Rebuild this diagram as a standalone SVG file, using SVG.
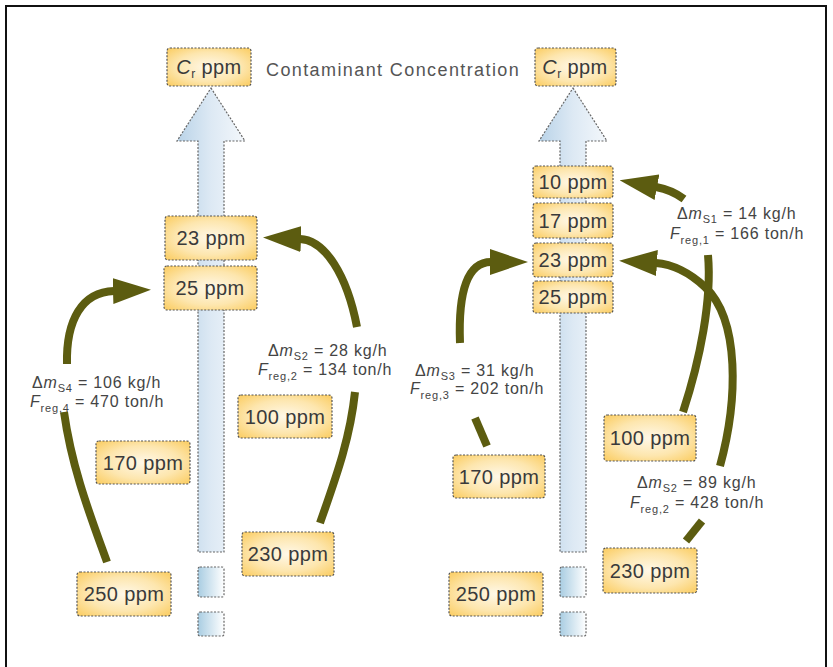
<svg xmlns="http://www.w3.org/2000/svg" width="833" height="667" viewBox="0 0 833 667">
<style>
.box{fill:url(#boxg);stroke:#555;stroke-width:1.2;stroke-dasharray:2 1.5}
.bt{font-family:"Liberation Sans",Arial,sans-serif;font-size:20px;fill:#3a3a3a;text-anchor:middle;letter-spacing:0.4px}
.lbl{font-family:"Liberation Sans",Arial,sans-serif;font-size:16px;fill:#444;letter-spacing:0.8px}
.title{font-family:"Liberation Sans",Arial,sans-serif;font-size:18px;fill:#555;letter-spacing:1.4px}
.shaft{fill:url(#blueg);stroke:#666;stroke-width:1.2;stroke-dasharray:2 1.5}
.sq{fill:url(#sqg);stroke:#666;stroke-width:1.2;stroke-dasharray:2 1.5}
.flow{fill:none;stroke:#5c5c10;stroke-width:8}
.flowh{fill:none;stroke:#5c5c10;stroke-width:8;marker-end:url(#ah)}
</style>
<defs>
<radialGradient id="boxg" cx="50%" cy="50%" r="65%">
<stop offset="0" stop-color="#fff8e8"/>
<stop offset="0.6" stop-color="#fde6ae"/>
<stop offset="1" stop-color="#fbd06c"/>
</radialGradient>
<linearGradient id="blueg" x1="0" y1="0" x2="1" y2="0">
<stop offset="0" stop-color="#b9d3e8"/>
<stop offset="0.5" stop-color="#dde9f4"/>
<stop offset="1" stop-color="#f3f7fb"/>
</linearGradient>
<linearGradient id="sqg" x1="0" y1="0" x2="1" y2="0">
<stop offset="0" stop-color="#a9cde2"/>
<stop offset="1" stop-color="#ffffff"/>
</linearGradient>
<marker id="ah" viewBox="0 0 38 26" markerWidth="38" markerHeight="26" refX="1" refY="13" orient="auto" markerUnits="userSpaceOnUse">
<path d="M0,0 L38,13 L0,26 Z" fill="#5c5c10"/>
</marker>
</defs>
<rect x="0" y="0" width="833" height="667" fill="#fff"/>
<rect x="6" y="6" width="820" height="680" fill="none" stroke="#111" stroke-width="2"/>

<text class="title" x="266" y="76">Contaminant Concentration</text>

<g id="left-column">
<polygon class="shaft" points="211,88 245,141 224,141 224,552 198,552 198,141 177,141"/>
<rect class="sq" x="198" y="567" width="26" height="30" rx="2"/>
<rect class="sq" x="198" y="612" width="26" height="24" rx="2"/>
</g>
<g id="right-column">
<polygon class="shaft" points="573,88 607,141 586,141 586,552 560,552 560,141 539,141"/>
<rect class="sq" x="560" y="567" width="26" height="30" rx="2"/>
<rect class="sq" x="560" y="612" width="26" height="24" rx="2"/>
</g>

<g id="connectors">
<path class="flow" d="M107,562 C92,520 72,470 64,412"/>
<path class="flowh" d="M67,364 C66,320 82,292 114,291"/>
<path class="flow" d="M320,523 C335,480 350,440 355,392"/>
<path class="flowh" d="M357,327 C347,275 325,240 300,239"/>
<path class="flow" d="M487,446 L475,418"/>
<path class="flowh" d="M460,343 C458,290 468,262 491,262"/>
<path class="flow" d="M683,412 C700,360 712,300 708,255"/>
<path class="flowh" d="M684,199 Q672,190 656,187"/>
<path class="flow" d="M686,541 L702,521"/>
<path class="flowh" d="M720,466 C738,400 740,320 705,287 C690,273 672,264 656,263"/>
</g>

<g id="n-cr-left"><rect class="box" x="167" y="48" width="84" height="38" rx="3"/><text class="bt" x="209" y="74"><tspan font-style="italic">C</tspan><tspan font-size="12" dy="4">r</tspan><tspan dy="-4"> ppm</tspan></text></g>
<g id="n-l23"><rect class="box" x="165" y="216" width="92" height="44" rx="3"/><text class="bt" x="211" y="245">23 ppm</text></g>
<g id="n-l25"><rect class="box" x="164" y="266" width="93" height="44" rx="3"/><text class="bt" x="210" y="295">25 ppm</text></g>
<g id="n-l100"><rect class="box" x="238" y="395" width="94" height="43" rx="3"/><text class="bt" x="285" y="424">100 ppm</text></g>
<g id="n-l170"><rect class="box" x="96" y="441" width="94" height="43" rx="3"/><text class="bt" x="143" y="470">170 ppm</text></g>
<g id="n-l230"><rect class="box" x="242" y="532" width="92" height="44" rx="3"/><text class="bt" x="288" y="561">230 ppm</text></g>
<g id="n-l250"><rect class="box" x="77" y="572" width="94" height="44" rx="3"/><text class="bt" x="124" y="601">250 ppm</text></g>

<g id="n-cr-right"><rect class="box" x="535" y="48" width="81" height="38" rx="3"/><text class="bt" x="575" y="74"><tspan font-style="italic">C</tspan><tspan font-size="12" dy="4">r</tspan><tspan dy="-4"> ppm</tspan></text></g>
<g id="n-r10"><rect class="box" x="533" y="166" width="80" height="32" rx="3"/><text class="bt" x="573" y="189">10 ppm</text></g>
<g id="n-r17"><rect class="box" x="533" y="203" width="80" height="35" rx="3"/><text class="bt" x="573" y="228">17 ppm</text></g>
<g id="n-r23"><rect class="box" x="533" y="243" width="80" height="34" rx="3"/><text class="bt" x="573" y="267">23 ppm</text></g>
<g id="n-r25"><rect class="box" x="533" y="281" width="80" height="32" rx="3"/><text class="bt" x="573" y="304">25 ppm</text></g>
<g id="n-r100"><rect class="box" x="604" y="415" width="92" height="46" rx="3"/><text class="bt" x="650" y="445">100 ppm</text></g>
<g id="n-r170"><rect class="box" x="453" y="455" width="92" height="43" rx="3"/><text class="bt" x="499" y="484">170 ppm</text></g>
<g id="n-r230"><rect class="box" x="603" y="548" width="94" height="45" rx="3"/><text class="bt" x="650" y="578">230 ppm</text></g>
<g id="n-r250"><rect class="box" x="449" y="572" width="94" height="44" rx="3"/><text class="bt" x="496" y="601">250 ppm</text></g>

<g id="labels">
<text class="lbl" x="32" y="388">Δ<tspan font-style="italic">m</tspan><tspan font-size="11" dy="4">S4</tspan><tspan dy="-4"> = 106 kg/h</tspan></text>
<text class="lbl" x="30" y="407"><tspan font-style="italic">F</tspan><tspan font-size="11" dy="5">reg,4</tspan><tspan dy="-5"> = 470 ton/h</tspan></text>
<text class="lbl" x="268" y="356">Δ<tspan font-style="italic">m</tspan><tspan font-size="11" dy="4">S2</tspan><tspan dy="-4"> = 28 kg/h</tspan></text>
<text class="lbl" x="258" y="375"><tspan font-style="italic">F</tspan><tspan font-size="11" dy="5">reg,2</tspan><tspan dy="-5"> = 134 ton/h</tspan></text>
<text class="lbl" x="415" y="376">Δ<tspan font-style="italic">m</tspan><tspan font-size="11" dy="4">S3</tspan><tspan dy="-4"> = 31 kg/h</tspan></text>
<text class="lbl" x="410" y="394"><tspan font-style="italic">F</tspan><tspan font-size="11" dy="5">reg,3</tspan><tspan dy="-5"> = 202 ton/h</tspan></text>
<text class="lbl" x="677" y="219">Δ<tspan font-style="italic">m</tspan><tspan font-size="11" dy="4">S1</tspan><tspan dy="-4"> = 14 kg/h</tspan></text>
<text class="lbl" x="670" y="239"><tspan font-style="italic">F</tspan><tspan font-size="11" dy="5">reg,1</tspan><tspan dy="-5"> = 166 ton/h</tspan></text>
<text class="lbl" x="637" y="488">Δ<tspan font-style="italic">m</tspan><tspan font-size="11" dy="4">S2</tspan><tspan dy="-4"> = 89 kg/h</tspan></text>
<text class="lbl" x="630" y="508"><tspan font-style="italic">F</tspan><tspan font-size="11" dy="5">reg,2</tspan><tspan dy="-5"> = 428 ton/h</tspan></text>
</g>
</svg>
